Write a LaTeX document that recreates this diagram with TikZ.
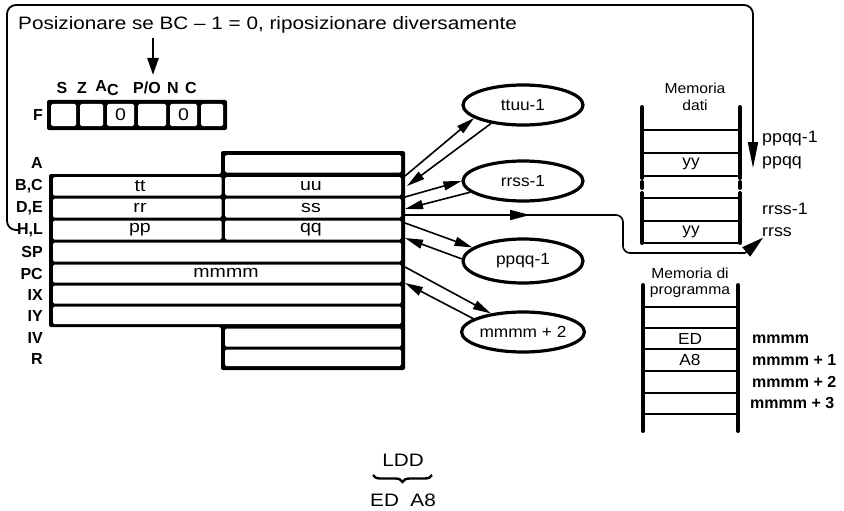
\documentclass[tikz,border=0pt]{standalone}
\usepackage{fontspec}
\setmainfont{Liberation Sans}
\newfontfamily\widefont[FakeStretch=1.15]{Liberation Sans}
\newfontfamily\medfont[FakeStretch=1.08]{Liberation Sans}
\usetikzlibrary{arrows.meta,shapes.geometric,decorations.pathreplacing}
\begin{document}
\begin{tikzpicture}[x=1pt,y=-1pt,
  bl/.style={font=\fontsize{16}{18}\selectfont\bfseries, inner sep=0pt},
  flag/.style={font=\fontsize{16}{18}\selectfont\bfseries, inner sep=0pt},
  reglbl/.style={bl, anchor=east},
  celltxt/.style={font=\widefont\fontsize{17}{19}\selectfont, inner sep=0pt},
  memcell/.style={font=\medfont\fontsize{16}{18}\selectfont, inner sep=0pt},
  smalltxt/.style={font=\medfont\fontsize{14.5}{16}\selectfont, inner sep=0pt},
  memlbl/.style={font=\medfont\fontsize{16.5}{18}\selectfont, inner sep=0pt, anchor=west},
  memlblb/.style={font=\fontsize{16}{18}\selectfont\bfseries, inner sep=0pt, anchor=west},
  ell/.style={ellipse, draw, line width=3.2pt, minimum width=120pt, minimum height=40pt, inner sep=0pt, font=\medfont\fontsize{16}{18}\selectfont},
  arr/.style={line width=1.6pt, -{Triangle[length=18pt,width=9pt]}},
  cellw/.style={fill=white, rounded corners=1.5pt},
  memv/.style={line width=4pt, line cap=round},
  memh/.style={line width=2.6pt},
]
\useasboundingbox (0,0) rectangle (844,511);

% title and top arrow
\node[font=\widefont\fontsize{18}{20}\selectfont, inner sep=0pt, anchor=west] (title) at (18,25) {Posizionare se BC – 1 = 0, riposizionare diversamente};

% flag labels
\node[flag] (fS) at (62,88) {S};
\node[flag] (fZ) at (82,88) {Z};
\node[flag] (fA) at (107,88) {A\raisebox{-0.4ex}{C}};
\node[flag] (fP) at (147,88) {P/O};
\node[flag] (fN) at (173,88) {N};
\node[flag] (fC) at (191,88) {C};
\coordinate (ta) at (153,38);
\coordinate (tb) at (153,75);
\draw[line width=2.6pt, -{Triangle[length=17pt,width=11pt]}] (ta) -- (tb);

% F register
\node[bl, anchor=east] (fF) at (43,115) {F};
\fill[rounded corners=2pt] (47,100) rectangle (227,130);
\foreach \a/\b in {51/76,80/103,107/134,138/166,170/197,201/223}
  \fill[cellw] (\a,104) rectangle (\b,126);
\node[celltxt] (f0a) at (120.5,115) {0};
\node[celltxt] (f0b) at (183.5,115) {0};

% register block
\fill[rounded corners=2pt] (49,174) -- (221,174) -- (221,151) -- (405,151) -- (405,370) -- (221,370) -- (221,327) -- (49,327) -- cycle;
\fill[cellw] (225,155) rectangle (401,172.5);
\foreach \t/\b in {177/195.5,198.5/217.5,220.5/239.5}{
  \fill[cellw] (53,\t) rectangle (221.5,\b);
  \fill[cellw] (225,\t) rectangle (401,\b);
}
\foreach \t/\b in {242.5/261.5,264.5/282.5,285.5/303.5,306.5/324}
  \fill[cellw] (53,\t) rectangle (401,\b);
\foreach \t/\b in {328.5/346.5,349.5/366}
  \fill[cellw] (225,\t) rectangle (401,\b);

\node[reglbl] (lA) at (43,162.5) {A};
\node[reglbl] (lBC) at (43,186.5) {B,C};
\node[reglbl] (lDE) at (43,208) {D,E};
\node[reglbl] (hl) at (43,230) {H,L};
\node[reglbl] (lSP) at (43,252) {SP};
\node[reglbl] (lPC) at (43,273.5) {PC};
\node[reglbl] (lIX) at (43,294.5) {IX};
\node[reglbl] (lIY) at (43,316) {IY};
\node[reglbl] (lIV) at (43,337.5) {IV};
\node[reglbl] (lR) at (43,359) {R};

\node[celltxt] (ctt) at (140,186) {tt};
\node[celltxt] (cuu) at (311,186) {uu};
\node[celltxt] (crr) at (140,208) {rr};
\node[celltxt] (css) at (311,208) {ss};
\node[celltxt] (cpp) at (140,229.5) {pp};
\node[celltxt] (cqq) at (311,229.5) {qq};
\node[celltxt] (cmm) at (226,273) {mmmm};

% big frame from H,L to data memory
\coordinate (fa) at (753,168);
\draw[line width=1.8pt, rounded corners=9pt, -{Triangle[length=26pt,width=10pt]}]
  ([xshift=3pt]hl.west) -- (7,230) -- (7,5) -- (753,5) -- (fa);

% ellipses
\node[ell] (tt) at (523,105) {ttuu-1};
\node[ell] (rr) at (523,181) {rrss-1};
\node[ell, minimum height=44pt] (pp) at (523,261) {ppqq-1};
\node[ell] (mm) at (523,332) {mmmm + 2};

% register-side points
\coordinate (r1) at (405,176);
\coordinate (r2) at (407,186);
\coordinate (r3) at (405,197);
\coordinate (r4) at (405,209);
\coordinate (lg) at (405,215);
\coordinate (r5) at (405,223);
\coordinate (r6) at (405,238);
\coordinate (r7) at (405,267);
\coordinate (r8) at (405,283);

\draw[arr] (r1) -- (tt.195);
\draw[arr] (tt.210) -- (r2);
\draw[arr] (r3) -- (rr.180);
\draw[arr] (rr.192) -- (r4);
\draw[arr] (r5) -- (pp.165);
\draw[arr] (pp.178) -- (r6);
\draw[arr] (r7) -- (mm.150);
\draw[arr] (mm.165) -- (r8);

% data memory
\node[smalltxt] (md1) at (695,88) {Memoria};
\node[smalltxt] (md2) at (695,105) {dati};
\foreach \x in {642,740}{
  \draw[memv] (\x,107) -- (\x,178);
  \draw[memv] (\x,182) -- (\x,188);
  \draw[memv] (\x,193) -- (\x,243);
}
\foreach \y in {130,153,176,198,221,243}
  \draw[memh] (642,\y) -- (740,\y);
\node[memcell] (yy1) at (691,164) {yy};
\node[memcell] (yy2) at (691,232) {yy};
\node[memlbl] (lpq1) at (762,139) {ppqq-1};
\node[memlbl] (lpq) at (762,163) {ppqq};
\node[memlbl] (lrs1) at (762,209) {rrss-1};
\node[memlbl] (lrs) at (762,232) {rrss};

% long arrow to rrss
\draw[line width=1.6pt] (lg) [rounded corners=7pt] -- (623,215) -- (623,253) -- (745,253);
\draw[line width=1.6pt, -{Triangle[length=20pt,width=10pt]}] (lg) -- (530,215);
\draw[line width=1.6pt, -{Triangle[length=22pt,width=12pt]}] (745,253) -- ([xshift=1pt,yshift=-1pt]lrs.south west);

% program memory
\node[smalltxt] (mp1) at (690,273) {Memoria di};
\node[smalltxt] (mp2) at (690,292) {programma};
\foreach \x in {643,738}
  \draw[memv] (\x,285) -- (\x,431);
\foreach \y in {307,328,349,371,393,414}
  \draw[memh] (643,\y) -- (738,\y);
\node[memcell] (cED) at (690,339) {ED};
\node[memcell] (cA8) at (690,360) {A8};
\node[memlblb] (m0) at (752,339) {mmmm};
\node[memlblb] (m1) at (752,360) {mmmm + 1};
\node[memlblb] (m2) at (752,382) {mmmm + 2};
\node[memlblb] (m3) at (750,403) {mmmm + 3};

% LDD
\node[font=\widefont\fontsize{18}{20}\selectfont, inner sep=0pt] (ldd) at (403,460) {LDD};
\draw[decorate, decoration={brace,mirror,amplitude=7pt}, line width=2.4pt] (373,475) -- (432,475);
\node[font=\widefont\fontsize{18}{20}\selectfont, inner sep=0pt] (eda8) at (403,500) {ED\ \ A8};
\end{tikzpicture}
\end{document}
